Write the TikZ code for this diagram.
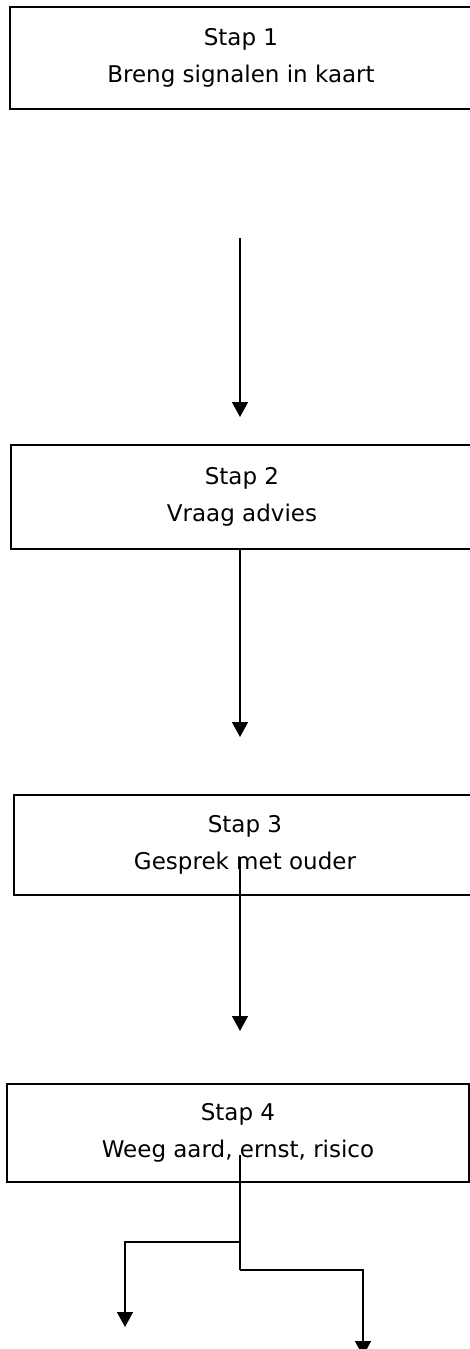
\documentclass[tikz,border=0pt]{standalone}
\usepackage{fontspec}
\setmainfont{DejaVu Sans}
\usetikzlibrary{arrows.meta}
\begin{document}
\begin{tikzpicture}[x=1pt,y=-1pt,
  stepbox/.style={draw,line width=1.8pt,rectangle,inner sep=0pt,minimum width=462pt,
    align=center,font=\fontsize{23}{37}\selectfont},
  arr/.style={line width=1.5pt,-{Triangle[width=16pt,length=15pt]}},
  conn/.style={line width=1.5pt}]
\useasboundingbox (0,0) rectangle (470,1349);
\node[stepbox,minimum height=102pt] (s1) at (241,58) {Stap 1\\Breng signalen in kaart};
\node[stepbox,minimum height=104pt] (s2) at (242,497) {Stap 2\\Vraag advies};
\node[stepbox,minimum height=100pt] (s3) at (245,845) {Stap 3\\Gesprek met ouder};
\node[stepbox,minimum height=98pt] (s4) at (238,1133) {Stap 4\\Weeg aard, ernst, risico};
\coordinate (a1s) at (240,238);
\coordinate (a1e) at (240,417);
\coordinate (a2e) at (240,737);
\coordinate (a3s) at (240,857);
\coordinate (a3e) at (240,1031);
\coordinate (a4s) at (240,1155);
\coordinate (j1) at (240,1242);
\coordinate (j2) at (240,1270);
\coordinate (le) at (125,1327);
\coordinate (re) at (363,1356);
\draw[arr] (a1s) -- (a1e);
\draw[arr] (a2e |- s2.south) -- (a2e);
\draw[arr] (a3s) -- (a3e);
\draw[conn] (a4s) -- (j2);
\draw[arr] (j1) -| (le);
\draw[arr] (j2) -| (re);
\end{tikzpicture}
\end{document}
